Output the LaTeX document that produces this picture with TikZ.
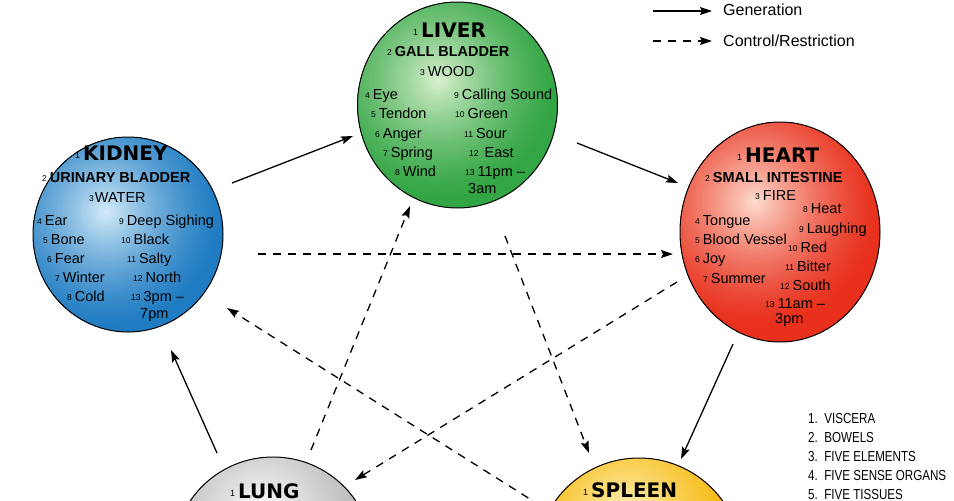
\documentclass[tikz,border=0pt]{standalone}
\usepackage{fontspec}
\setmainfont{Liberation Sans}
\newfontfamily\ttlfont{DejaVu Sans}
\newfontfamily\narrowfont{Liberation Sans}[FakeStretch=0.8]
\usetikzlibrary{arrows.meta,shapes.geometric}
\definecolor{livIn}{RGB}{215,240,205}
\definecolor{livOut}{RGB}{50,165,68}
\definecolor{kidIn}{RGB}{210,234,248}
\definecolor{kidOut}{RGB}{32,124,194}
\definecolor{heaIn}{RGB}{253,218,205}
\definecolor{heaOut}{RGB}{232,48,28}
\definecolor{lunIn}{RGB}{255,255,255}
\definecolor{lunOut}{RGB}{180,180,180}
\definecolor{splIn}{RGB}{255,245,195}
\definecolor{splOut}{RGB}{245,180,0}
\newcommand\dgnum[1]{{\normalfont\fontsize{8.5}{9}\selectfont\raisebox{0.5pt}{#1}}\hspace{3pt}}
\newcommand\dgtnum[1]{{\normalfont\fontsize{9}{10}\selectfont\raisebox{2pt}{#1}}\hspace{3pt}}
\newcommand\dgitem[5]{\node[itm] (#1) at (#2,#3) {\dgnum{#4}#5};}
% #1 centre, #2 x radius, #3 y radius, #4 colour prefix, #5 highlight centre, #6 highlight radius
\newcommand\dgorganfill[6]{%
  \fill[#4Out] (#1) ellipse [x radius=#2, y radius=#3];
  \begin{scope}
    \clip (#1) ellipse [x radius=#2, y radius=#3];
    \foreach \dgi in {1,...,48} {
      \pgfmathsetmacro\dgrr{#6*(1-\dgi/49)}
      \pgfmathtruncatemacro\dgpp{100*(\dgi/48)^1.45}
      \fill[#4In!\dgpp!#4Out] (#5) circle [radius=\dgrr];
    }
  \end{scope}}
\tikzset{
  itm/.style={anchor=base west, inner sep=0pt, font=\fontsize{14.5}{16}\selectfont},
  subt/.style={anchor=base west, inner sep=0pt, font=\bfseries\fontsize{14.5}{16}\selectfont},
  ttl/.style={anchor=base west, inner sep=0pt, font=\ttlfont\bfseries\fontsize{20}{22}\selectfont},
  organ/.style={ellipse, draw=black, line width=1pt, inner sep=0pt},
  gen/.style={-{Stealth[length=12pt,width=8pt,inset=2pt]}, line width=1.3pt},
  ctrl/.style={gen, dash pattern=on 8pt off 7pt},
  legtxt/.style={anchor=west, inner sep=0pt, font=\fontsize{16}{18}\selectfont},
  keytxt/.style={anchor=base west, inner sep=0pt, font=\narrowfont\fontsize{14.5}{16}\selectfont},
}
\begin{document}
\begin{tikzpicture}[x=1pt,y=-1pt]
\useasboundingbox (0,0) rectangle (954,501);
\clip (0,0) rectangle (954,501);
\fill[white] (0,0) rectangle (954,501);
% organ fills
\dgorganfill{457.5,105}{100}{103}{liv}{438,80}{125}
\dgorganfill{128,234.5}{95}{97.5}{kid}{106,212}{120}
\dgorganfill{780,232}{100}{110}{hea}{755,202}{130}
\dgorganfill{273,557}{100}{100}{lun}{262,515}{125}
\dgorganfill{639,561}{103}{103}{spl}{627,517}{125}
% organ outlines
\node[organ, minimum width=200pt, minimum height=206pt] (liv) at (457.5,105) {};
\node[organ, minimum width=190pt, minimum height=195pt] (kid) at (128,234.5) {};
\node[organ, minimum width=200pt, minimum height=220pt] (hea) at (780,232) {};
\node[organ, minimum width=200pt, minimum height=200pt] (lun) at (273,557) {};
\node[organ, minimum width=206pt, minimum height=206pt] (spl) at (639,561) {};
% arrow end points
\coordinate (kl1) at (232,183); \coordinate (kl2) at (353,136);
\coordinate (lh1) at (577,143); \coordinate (lh2) at (678,183);
\coordinate (hs1) at (733,344); \coordinate (hs2) at (681,459);
\coordinate (lk1) at (217,453); \coordinate (lk2) at (171,350);
\coordinate (kh1) at (258,254); \coordinate (kh2) at (673,254);
\coordinate (ll1) at (311,450); \coordinate (ll2) at (410,206);
\coordinate (ls1) at (505,236); \coordinate (ls2) at (589,453);
\coordinate (hl1) at (677,282); \coordinate (hl2) at (355,480);
\coordinate (sk1) at (541,506); \coordinate (sk2) at (227,308);
\draw[gen] (kl1) -- (kl2);
\draw[gen] (lh1) -- (lh2);
\draw[gen] (hs1) -- (hs2);
\draw[gen] (lk1) -- (lk2);
\draw[ctrl] (kh1) -- (kh2);
\draw[ctrl] (ll1) -- (ll2);
\draw[ctrl] (ls1) -- (ls2);
\draw[ctrl] (hl1) -- (hl2);
\draw[ctrl] (sk1) -- (sk2);
% legend
\coordinate (g1) at (653,11); \coordinate (g2) at (712,11);
\coordinate (c1) at (653,41); \coordinate (c2) at (712,41);
\draw[gen] (g1) -- (g2);
\draw[ctrl] (c1) -- (c2);
\node[legtxt] (gtxt) at (723,10) {Generation};
\node[legtxt] (ctxt) at (723,41) {Control/Restriction};
% Liver
\node[ttl] (livT) at (413,37) {\dgtnum{1}LIVER};
\node[subt] (livB) at (387,56) {\dgnum{2}GALL BLADDER};
\node[itm] (livE) at (420,76) {\dgnum{3}WOOD};
\dgitem{liv4}{365}{99}{4}{Eye}
\dgitem{liv5}{371}{118}{5}{Tendon}
\dgitem{liv6}{375}{138}{6}{Anger}
\dgitem{liv7}{383}{157}{7}{Spring}
\dgitem{liv8}{395}{176}{8}{Wind}
\dgitem{liv9}{454}{99}{9}{Calling Sound}
\dgitem{liv10}{455}{118}{10}{Green}
\dgitem{liv11}{464}{138}{11}{Sour}
\dgitem{liv12}{469}{157}{12}{\hspace{3pt}East}
\dgitem{liv13}{465}{176}{13}{11pm –}
\node[itm] (liv13b) at (468,193) {3am};
% Kidney
\node[ttl] (kidT) at (75,160) {\dgtnum{1}KIDNEY};
\node[subt] (kidB) at (42,182) {\dgnum{2}URINARY BLADDER};
\node[itm] (kidE) at (89,202) {\dgnum{3}\hspace{-2pt}WATER};
\dgitem{kid4}{37}{225}{4}{Ear}
\dgitem{kid5}{43}{244}{5}{Bone}
\dgitem{kid6}{47}{263}{6}{Fear}
\dgitem{kid7}{55}{282}{7}{Winter}
\dgitem{kid8}{67}{301}{8}{Cold}
\dgitem{kid9}{119}{225}{9}{Deep Sighing}
\dgitem{kid10}{121}{244}{10}{Black}
\dgitem{kid11}{127}{263}{11}{Salty}
\dgitem{kid12}{133}{282}{12}{North}
\dgitem{kid13}{131}{301}{13}{3pm –}
\node[itm] (kid13b) at (140,318) {7pm};
% Heart
\node[ttl] (heaT) at (737,162) {\dgtnum{1}HEART};
\node[subt] (heaB) at (705,182) {\dgnum{2}SMALL INTESTINE};
\node[itm] (heaE) at (755,200) {\dgnum{3}FIRE};
\dgitem{hea4}{695}{225}{4}{Tongue}
\dgitem{hea5}{695}{244}{5}{Blood Vessel}
\dgitem{hea6}{695}{263}{6}{Joy}
\dgitem{hea7}{703}{283}{7}{Summer}
\dgitem{hea8}{803}{213}{8}{Heat}
\dgitem{hea9}{799}{233}{9}{Laughing}
\dgitem{hea10}{788}{252}{10}{Red}
\dgitem{hea11}{785}{271}{11}{Bitter}
\dgitem{hea12}{780}{290}{12}{South}
\dgitem{hea13}{765}{308}{13}{11am –}
\node[itm] (hea13b) at (775,323) {3pm};
% Lung and Spleen titles
\node[ttl] (lunT) at (230,498) {\dgtnum{1}LUNG};
\node[ttl] (splT) at (583,497) {\dgtnum{1}SPLEEN};
% key
\node[keytxt] (key1) at (808,423) {1.\ \ VISCERA};
\node[keytxt] (key2) at (808,442) {2.\ \ BOWELS};
\node[keytxt] (key3) at (808,461) {3.\ \ FIVE ELEMENTS};
\node[keytxt] (key4) at (808,480) {4.\ \ FIVE SENSE ORGANS};
\node[keytxt] (key5) at (808,499) {5.\ \ FIVE TISSUES};
\end{tikzpicture}
\end{document}
